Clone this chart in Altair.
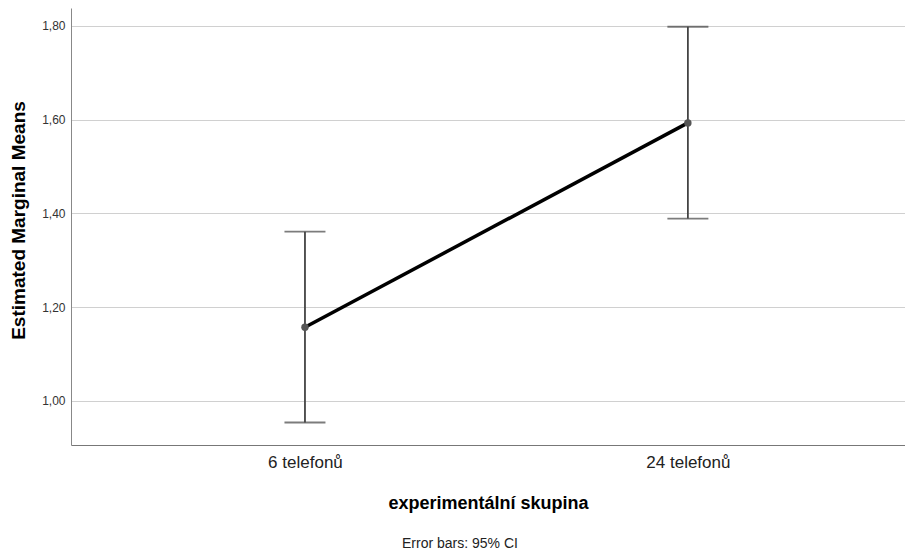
import altair as alt
import pandas as pd

categories = ["6 telefonů", "24 telefonů"]
means = [1.157, 1.593]
lower = [0.954, 1.389]
upper = [1.361, 1.798]
y_ticks = [1.0, 1.2, 1.4, 1.6, 1.8]
footnote = ["Error bars: 95% CI"]

df = pd.DataFrame({
    "idx": list(range(len(categories))),
    "cat": categories,
    "mean": means,
    "lo": lower,
    "hi": upper,
})

FONT = "Liberation Sans"
label_expr = " : ".join(
    [f"datum.value == {i} ? '{c}'" for i, c in enumerate(categories)]
) + " : ''"

x_scale = alt.Scale(domain=[-0.611, 1.567], nice=False, zero=False)
y_scale = alt.Scale(domain=[0.906, 1.838], nice=False, zero=False)

x_enc = alt.X(
    "idx:Q", scale=x_scale,
    axis=alt.Axis(
        values=list(range(len(categories))), labelExpr=label_expr,
        title="experimentální skupina", grid=False, ticks=False,
        domainColor="#777777", labelFontSize=17, labelColor="#222222",
        labelPadding=9, titleFontSize=18, titleFontWeight="bold",
        titlePadding=24, titleColor="#000000", labelFont=FONT, titleFont=FONT,
    ),
)
y_axis = alt.Axis(
    values=y_ticks,
    labelExpr="replace(format(datum.value, '.2f'), '.', ',')",
    title="Estimated Marginal Means", grid=True, gridColor="#d0d0d0",
    ticks=False, domainColor="#888888", labelFontSize=12,
    labelColor="#333333", labelPadding=6, titleFontSize=19,
    titleFontWeight="bold", titlePadding=13, titleColor="#000000",
    titleY=212,
    labelFont=FONT, titleFont=FONT,
)

base = alt.Chart(df)

bars = base.mark_errorbar(
    ticks=alt.MarkConfig(size=41, color="#444444", strokeWidth=1.8),
    color="#444444", thickness=1.8,
).encode(
    x=x_enc,
    y=alt.Y("lo:Q", scale=y_scale, axis=y_axis),
    y2="hi:Q",
)

line = base.mark_line(color="#000000", strokeWidth=3.5).encode(
    x=alt.X("idx:Q", scale=x_scale),
    y=alt.Y("mean:Q", scale=y_scale),
)

pts = base.mark_circle(color="#555555", size=55, opacity=1).encode(
    x=alt.X("idx:Q", scale=x_scale),
    y=alt.Y("mean:Q", scale=y_scale),
)

note = alt.Chart(pd.DataFrame({"t": footnote})).mark_text(
    font=FONT, fontSize=14, color="#222222", align="center", baseline="middle"
).encode(
    text="t:N",
    x=alt.value(389),
    y=alt.value(536),
)

chart = alt.layer(bars, line, pts, note).properties(
    width=834, height=437,
    background="white",
    autosize=alt.AutoSizeParams(type="none"),
    padding={"left": 63, "top": 0, "right": 0, "bottom": 108},
).configure_view(stroke=None)

chart.save("out.html", embed_options={"renderer": "svg", "actions": False})
